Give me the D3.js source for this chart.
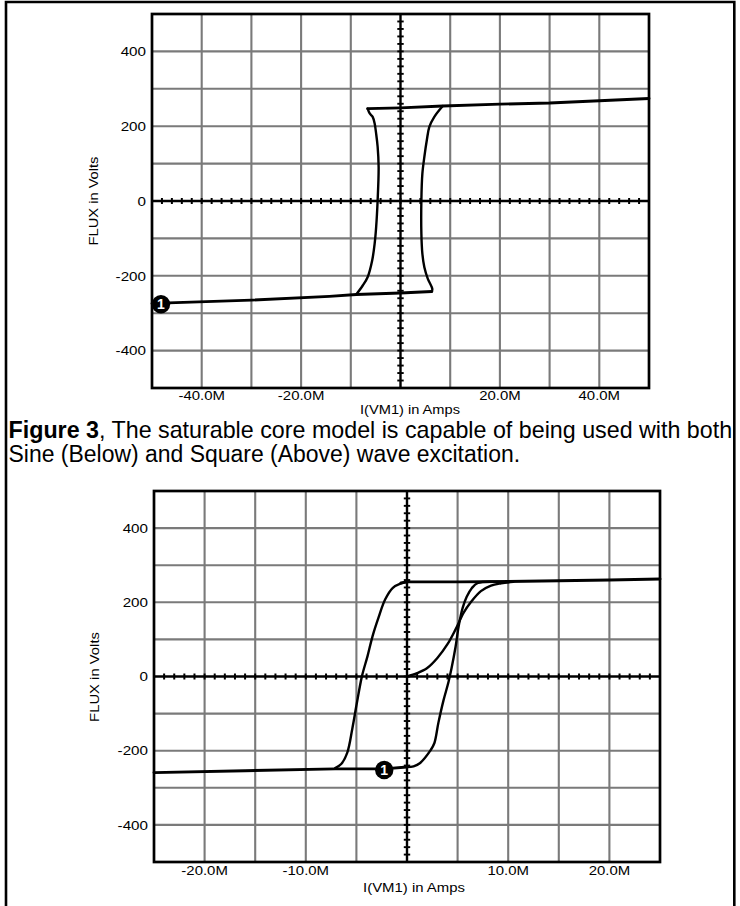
<!DOCTYPE html>
<html><head><meta charset="utf-8">
<script src="https://cdn.jsdelivr.net/npm/d3@7"></script>
<style>html,body{margin:0;padding:0;background:#fff}svg{display:block}</style>
</head><body>
<svg id="c" width="740" height="906"></svg>
<script>
// ---------- DATA (current in millions of amps "M", flux in volts) ----------
// Top chart: square-wave excitation
const sqBottomI = [-50, -48.2, -30, -14.3, -8.9, 0, 6.3];
const sqBottomF = [-274, -273, -265, -255, -250, -246, -242];
const sqRiseI = [6.3, 6.4, 5.5, 4.8, 4.4, 4.2, 4.2, 4.4, 4.8, 5.3, 5.8, 6.8, 8.5];
const sqRiseF = [-242, -235, -208, -177, -141, -87, 2, 73, 118, 163, 198, 225, 254];
const sqTopI = [-6.6, 0, 8.5, 20, 30, 40, 50];
const sqTopF = [247, 249, 254, 259, 262, 268, 274];
const sqFallI = [-6.6, -6.2, -5.6, -5.2, -4.9, -4.6, -4.4, -4.6, -4.9, -5.2, -5.7, -6.6, -7.6, -8.9];
const sqFallF = [247, 234, 225, 207, 180, 145, 91, 2, -70, -114, -159, -203, -226, -250];
const sqMarker = [-48.2, -276];

// Bottom chart: sine-wave excitation
const sineInitI = [0, 1, 2, 3, 4, 4.8, 5.6, 6.3, 7.3, 8.3, 9.3, 10.5];
const sineInitF = [0, 9, 23, 50, 87, 127, 172, 200, 230, 245, 251, 255];
const sineTopI = [-0.6, 0, 5, 10, 15, 20, 25];
const sineTopF = [252, 255, 255, 256, 258, 260, 263];
const sineFallI = [0, -0.6, -1.4, -2.15, -2.8, -3.4, -3.9, -4.45, -4.95, -5.4, -5.9, -6.5, -7.1];
const sineFallF = [255, 251, 239, 208, 160, 109, 55, 1, -71, -140, -205, -236, -247];
const sineBottomI = [-25, -16, -7.1, -2.25, 0];
const sineBottomF = [-259, -254, -249, -249, -244];
const sineRiseI = [0, 0.65, 1.3, 2.3, 2.7, 3.1, 3.6, 4.1, 4.4, 4.8, 5.1, 5.5, 5.9, 6.4, 7.0, 9.0];
const sineRiseF = [-244, -242, -233, -200, -180, -125, -65, -15, 22, 80, 135, 185, 215, 238, 252, 255];
const sineMarker = [-2.25, -252];

// Tick labels
const topXLabels = [-40, -20, 20, 40];
const bottomXLabels = [-20, -10, 10, 20];
const yLabels = [-400, -200, 0, 200, 400];

const xTitle = "I(VM1) in Amps";
const yTitle = "FLUX in Volts";
const captionBold = "Figure 3";
const captionRest1 = ", The saturable core model is capable of being used with both";
const captionLine2 = "Sine (Below) and Square (Above) wave excitation.";

// ---------- DRAWING ----------
const svg = d3.select("#c");
svg.append("rect").attr("width", 740).attr("height", 906).attr("fill", "#fff");
const FONT = "'Liberation Sans', Arial, Helvetica, sans-serif";

function label(parent, x, y, str, opt) {
  const g = parent.append("g")
    .attr("transform", `translate(${x},${y})` + (opt.rotate ? ` rotate(${opt.rotate})` : ""));
  const t = g.append("text")
    .attr("font-family", FONT).attr("font-size", opt.size)
    .attr("text-anchor", opt.anchor || "start").attr("fill", "#000")
    .text(str);
  const w = t.node().getComputedTextLength();
  const k = opt.width ? opt.width / w : (opt.k || 1);
  t.attr("transform", `scale(${k},1)`);
  return t;
}

function zip(a, b) { return a.map((v, i) => [v, b[i]]); }

function drawChart(cfg) {
  const b = cfg.box;
  const x = d3.scaleLinear().domain(cfg.xDomain).range([b.l, b.r]);
  const y = d3.scaleLinear().domain([-500, 500]).range([b.b, b.t]);
  const g = svg.append("g");

  // grid
  const xg = d3.range(cfg.xDomain[0] + cfg.xGrid, cfg.xDomain[1] - cfg.xGrid / 2, cfg.xGrid).filter(v => Math.abs(v) > 1e-9);
  const yg = d3.range(-400, 401, 100).filter(v => v !== 0);
  g.selectAll(".gx").data(xg).join("line")
    .attr("x1", d => x(d)).attr("x2", d => x(d)).attr("y1", b.t).attr("y2", b.b)
    .attr("stroke", "#7a7a7a").attr("stroke-width", 2.1);
  g.selectAll(".gy").data(yg).join("line")
    .attr("y1", d => y(d)).attr("y2", d => y(d)).attr("x1", b.l).attr("x2", b.r)
    .attr("stroke", "#7a7a7a").attr("stroke-width", 2.1);

  // zero axes
  g.append("line").attr("x1", b.l).attr("x2", b.r).attr("y1", y(0)).attr("y2", y(0))
    .attr("stroke", "#000").attr("stroke-width", 2.4);
  g.append("line").attr("y1", b.t).attr("y2", b.b).attr("x1", x(0)).attr("x2", x(0))
    .attr("stroke", "#000").attr("stroke-width", 2.4);
  const xt = d3.range(cfg.xDomain[0] + cfg.xMinor, cfg.xDomain[1] - cfg.xMinor / 2, cfg.xMinor);
  g.selectAll(".tx").data(xt).join("line")
    .attr("x1", d => x(d)).attr("x2", d => x(d)).attr("y1", y(0) - 3).attr("y2", y(0) + 3)
    .attr("stroke", "#000").attr("stroke-width", 2);
  const yt = d3.range(-480, 481, 20);
  g.selectAll(".ty").data(yt).join("line")
    .attr("y1", d => y(d)).attr("y2", d => y(d)).attr("x1", x(0) - 3.2).attr("x2", x(0) + 3.2)
    .attr("stroke", "#000").attr("stroke-width", 1.9);

  // curves
  cfg.segments.forEach(s => {
    const line = d3.line().x(d => x(d[0])).y(d => y(d[1]))
      .curve(s.smooth ? d3.curveCatmullRom.alpha(0.5) : d3.curveLinear);
    g.append("path").attr("d", line(zip(s.i, s.f)))
      .attr("fill", "none").attr("stroke", "#000").attr("stroke-width", s.smooth ? 2.4 : 2.9)
      .attr("stroke-linejoin", "round").attr("stroke-linecap", "round");
  });

  // plot border
  g.append("rect").attr("x", b.l).attr("y", b.t).attr("width", b.r - b.l).attr("height", b.b - b.t)
    .attr("fill", "none").attr("stroke", "#000").attr("stroke-width", 2.7);

  // marker
  const mx = x(cfg.marker[0]), my = y(cfg.marker[1]);
  g.append("circle").attr("cx", mx).attr("cy", my).attr("r", 9.2).attr("fill", "#000");
  g.append("text").attr("x", mx).attr("y", my + 5).attr("text-anchor", "middle")
    .attr("font-family", FONT).attr("font-weight", "bold").attr("font-size", 14)
    .attr("fill", "#fff").text("1");

  // tick labels
  cfg.xLabels.forEach(v => label(g, x(v), cfg.xLabelY, v.toFixed(1) + "M", { size: 13, anchor: "middle", k: 1.15 }));
  yLabels.forEach(v => label(g, b.l - 6, y(v) + 4.7, String(v), { size: 13, anchor: "end", k: 1.17 }));

  // titles
  label(g, cfg.xTitleX, cfg.xTitleY, xTitle, { size: 13, anchor: "middle", width: cfg.xTitleW });
  label(g, cfg.yTitleX, cfg.yTitleY, yTitle, { size: 13, anchor: "middle", rotate: -90, width: cfg.yTitleW });
}

drawChart({
  box: { l: 152, r: 649, t: 14, b: 388 },
  xDomain: [-50, 50], xGrid: 10, xMinor: 2,
  xLabels: topXLabels, xLabelY: 399.5,
  segments: [
    { i: sqBottomI, f: sqBottomF, smooth: false },
    { i: sqRiseI, f: sqRiseF, smooth: true },
    { i: sqTopI, f: sqTopF, smooth: false },
    { i: sqFallI, f: sqFallF, smooth: true }
  ],
  marker: sqMarker,
  xTitleX: 410, xTitleY: 414, xTitleW: 100,
  yTitleX: 98, yTitleY: 201, yTitleW: 89
});

drawChart({
  box: { l: 154, r: 660, t: 491, b: 862 },
  xDomain: [-25, 25], xGrid: 5, xMinor: 1,
  xLabels: bottomXLabels, xLabelY: 875,
  segments: [
    { i: sineInitI, f: sineInitF, smooth: true },
    { i: sineTopI, f: sineTopF, smooth: false },
    { i: sineFallI, f: sineFallF, smooth: true },
    { i: sineBottomI, f: sineBottomF, smooth: false },
    { i: sineRiseI, f: sineRiseF, smooth: true }
  ],
  marker: sineMarker,
  xTitleX: 414, xTitleY: 892, xTitleW: 102,
  yTitleX: 99, yTitleY: 677, yTitleW: 90
});

// outer frame (open at the bottom, continues past the page)
svg.append("path").attr("d", "M6,915 V2 H734.3 V915")
  .attr("fill", "none").attr("stroke", "#000").attr("stroke-width", 2.6);

// caption
(function () {
  const t1 = svg.append("text").attr("font-family", FONT).attr("font-size", 23).attr("fill", "#000");
  t1.append("tspan").attr("font-weight", "bold").text(captionBold);
  t1.append("tspan").text(captionRest1);
  const w1 = t1.node().getComputedTextLength();
  t1.attr("transform", `translate(8.5,437.5) scale(${724 / w1},1)`);
  const t2 = svg.append("text").attr("font-family", FONT).attr("font-size", 23).attr("fill", "#000").text(captionLine2);
  const w2 = t2.node().getComputedTextLength();
  t2.attr("transform", `translate(8.5,462) scale(${512 / w2},1)`);
})();
</script>
</body></html>
